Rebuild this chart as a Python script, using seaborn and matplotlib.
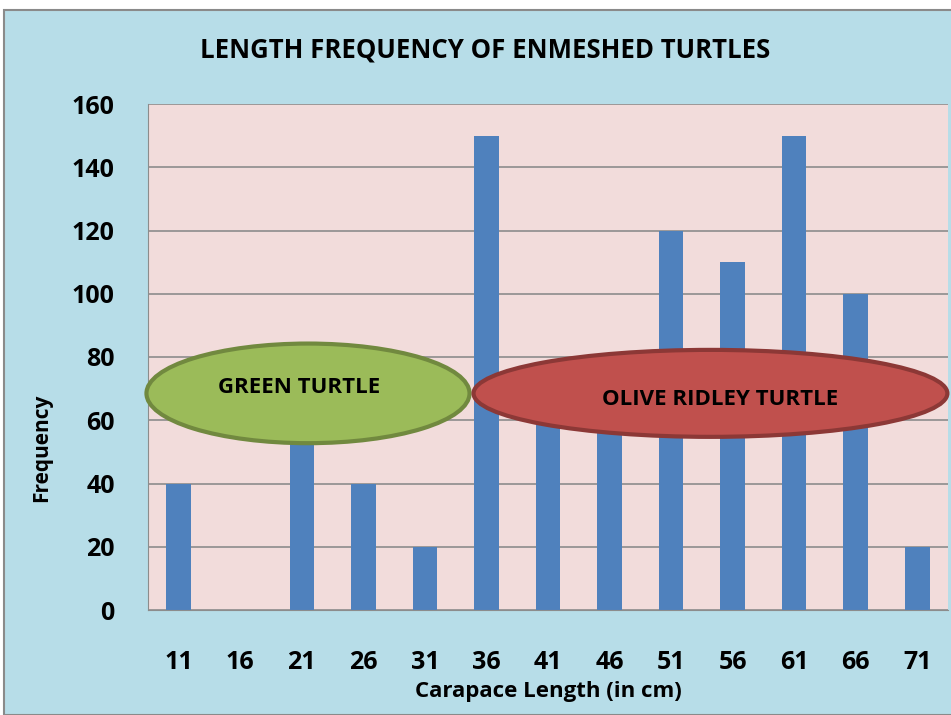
import seaborn as sns
import pandas as pd
import matplotlib.pyplot as plt
from matplotlib.patches import Ellipse, Rectangle

# carapace length classes (cm) and counts
lengths = ["11", "16", "21", "26", "31", "36", "41", "46", "51", "56", "61", "66", "71"]
frequency = [40, 0, 60, 40, 20, 150, 60, 60, 120, 110, 150, 100, 20]
y_ticks = [0, 20, 40, 60, 80, 100, 120, 140, 160]

df = pd.DataFrame({"length": lengths, "freq": frequency})

sns.set_style("white")
plt.rcParams["font.family"] = ["Open Sans", "DejaVu Sans"]

fig = plt.figure(figsize=(9.51, 7.15), dpi=100)
fig.patch.set_facecolor("white")
fig.add_artist(Rectangle((4 / 951, 0), 1.0, 1 - 10 / 715, transform=fig.transFigure,
                         facecolor="#b7dde8", edgecolor="#8a8a8a", lw=1.5, zorder=0))

ax = fig.add_axes([148 / 951, 1 - 610 / 715, 800 / 951, 506 / 715])
ax.set_facecolor("#f2dcdb")
ax.set_axisbelow(True)
ax.yaxis.grid(True, color="#8c8c8c", lw=1.2)

sns.barplot(data=df, x="length", y="freq", order=lengths, color="#4f81bd",
            saturation=1, width=0.4, linewidth=0, ax=ax)

ax.set_ylim(0, 160)
ax.set_xlim(-0.5, len(lengths) - 0.5)
ax.set_yticks(y_ticks)
ax.tick_params(axis="y", length=0, pad=24, labelsize=18, labelcolor="black")
ax.tick_params(axis="x", length=0, pad=29, labelsize=18, labelcolor="black")
for lab in ax.get_xticklabels() + ax.get_yticklabels():
    lab.set_fontweight("bold")

for side in ["top", "right"]:
    ax.spines[side].set_visible(False)
ax.spines["left"].set_color("#8c8c8c")
ax.spines["bottom"].set_color("#8c8c8c")

ax.set_xlabel("Carapace Length (in cm)", fontsize=16, fontweight="bold", labelpad=4,
              color="black")
ax.set_ylabel("Frequency", fontsize=15, fontweight="bold", color="black")
ax.yaxis.set_label_coords(-0.12, 0.32)

fig.text(485 / 951, 1 - 50 / 715, "LENGTH FREQUENCY OF ENMESHED TURTLES",
         ha="center", va="center", fontsize=18.5, fontweight="bold", color="black")

# species annotations
green = Ellipse((2.1, 68.5), 5.25, 31.5, facecolor="#9bbb59", edgecolor="#71893f",
                lw=3, zorder=5, clip_on=False)
red = Ellipse((8.64, 68.5), 7.7, 27.5, facecolor="#c0504d", edgecolor="#8c3836",
              lw=3, zorder=5, clip_on=False)
ax.add_patch(green)
ax.add_patch(red)
ax.text(1.95, 70.5, "GREEN TURTLE", ha="center", va="center", fontsize=16,
        fontweight="bold", zorder=6, color="black")
ax.text(8.8, 66.5, "OLIVE RIDLEY TURTLE", ha="center", va="center", fontsize=16,
        fontweight="bold", zorder=6, color="black")

fig.savefig("out.png", dpi=100)
